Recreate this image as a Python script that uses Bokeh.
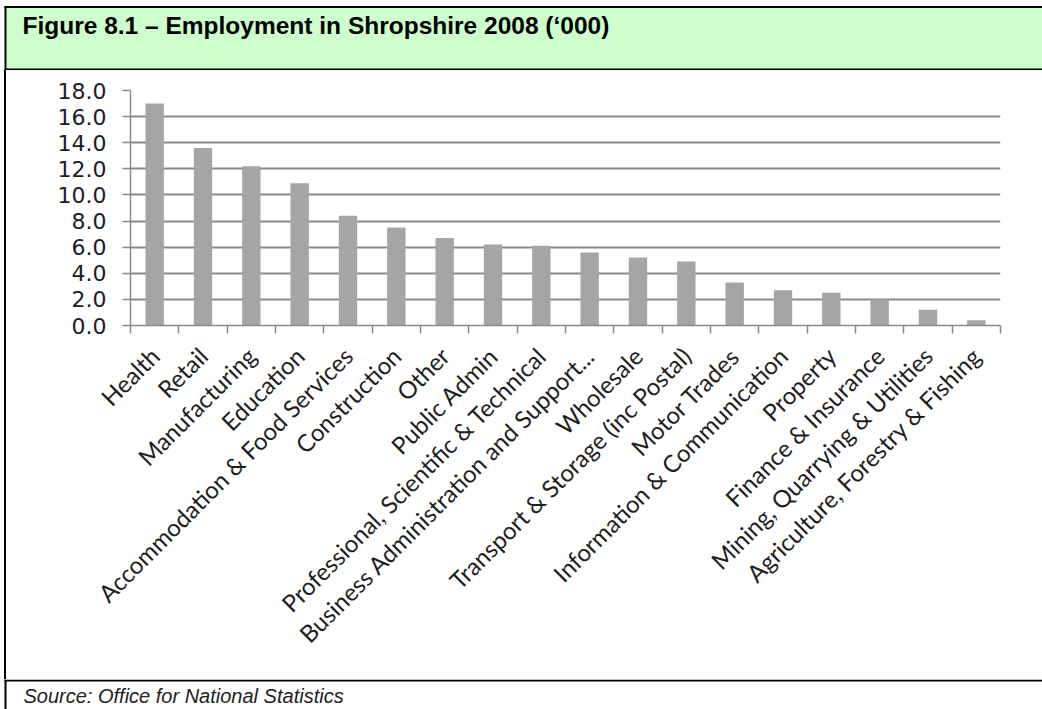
import math
from bokeh.plotting import figure
from bokeh.layouts import column, row
from bokeh.models import (FactorRange, Range1d, LinearAxis, CategoricalAxis, FixedTicker,
                          NumeralTickFormatter, Label, ColumnDataSource, Div, Spacer)
from bokeh.embed import file_html
from bokeh.resources import INLINE

# ---- data ----
categories = [
    "Health", "Retail", "Manufacturing", "Education", "Accommodation & Food Services",
    "Construction", "Other", "Public Admin", "Professional, Scientific & Technical",
    "Business Administration and Support...", "Wholesale", "Transport & Storage (inc Postal)",
    "Motor Trades", "Information & Communication", "Property", "Finance & Insurance",
    "Mining, Quarrying & Utilities", "Agriculture, Forestry & Fishing",
]
employment = [17.0, 13.6, 12.2, 10.9, 8.4, 7.5, 6.7, 6.2, 6.1, 5.6, 5.2, 4.9,
              3.3, 2.7, 2.5, 2.0, 1.2, 0.4]
y_ticks = [0, 2, 4, 6, 8, 10, 12, 14, 16, 18]
title_text = "Figure 8.1 \u2013 Employment in Shropshire 2008 (\u2018000)"
source_text = "Source: Office for National Statistics"

GRAY = "#8a8a8a"
W = 1042


def deco_figure(w, h):
    f = figure(width=w, height=h, x_range=Range1d(0, w), y_range=Range1d(h, 0),
               x_axis_type=None, y_axis_type=None, output_backend="svg", toolbar_location=None,
               min_border=0, min_border_left=0, min_border_right=0,
               min_border_top=0, min_border_bottom=0)
    f.outline_line_color = None
    f.background_fill_color = "white"
    f.border_fill_color = "white"
    f.grid.visible = False
    return f


# ---- header (green title band) ----
HEADER_H = 70
header = deco_figure(W, HEADER_H)
header.quad(left=[5], right=[W + 2], top=[7], bottom=[69], fill_color="#ccffcc", line_color=None)
header.quad(left=[4, 4, 4], right=[W + 2, W + 2, 6], top=[5.5, 68, 5.5], bottom=[7.5, 70, 70],
            fill_color="black", line_color=None)
header.add_layout(Label(x=22, y=24.5, text=title_text,
                        text_font="Liberation Sans", text_font_style="bold",
                        text_font_size="24.5px", text_baseline="alphabetic", text_color="black"))

# ---- main chart ----
MAIN_H = 609
p = figure(width=W - 6, height=MAIN_H,
           x_range=FactorRange(*categories), y_range=Range1d(0, 18),
           x_axis_type=None, output_backend="svg", toolbar_location=None,
           min_border_left=124, min_border_right=42, min_border_top=20, min_border_bottom=354)
p.outline_line_color = None
p.background_fill_color = "white"
p.border_fill_color = "white"

src = ColumnDataSource(dict(cat=categories, val=employment))
p.vbar(x="cat", top="val", width=0.38, source=src, fill_color="#a5a5a5", line_color=None)

yt = FixedTicker(ticks=y_ticks)
p.yaxis.ticker = yt
p.yaxis.formatter = NumeralTickFormatter(format="0.0")
p.yaxis.axis_line_color = GRAY
p.yaxis.axis_line_width = 1.5
p.yaxis.major_tick_line_color = GRAY
p.yaxis.major_tick_line_width = 1.5
p.yaxis.major_tick_out = 8
p.yaxis.major_tick_in = 0
p.yaxis.minor_tick_line_color = None
p.yaxis.major_label_text_font = "DejaVu Sans"
p.yaxis.major_label_text_font_size = "22px"
p.yaxis.major_label_text_color = "#1c1c28"
p.yaxis.major_label_standoff = 16
p.ygrid.ticker = yt
p.ygrid.grid_line_color = GRAY
p.ygrid.grid_line_width = 2

# ticks at category boundaries (synthetic coordinates of the factor range)
tick_axis = LinearAxis(ticker=FixedTicker(ticks=list(range(len(categories) + 1))),
                       major_tick_out=8, major_tick_in=0, minor_tick_out=0, minor_tick_in=0,
                       major_label_text_font_size="0px", major_label_text_color=None,
                       major_label_standoff=0,
                       axis_line_color=GRAY, axis_line_width=1.5,
                       major_tick_line_color=GRAY, major_tick_line_width=1.5)
p.add_layout(tick_axis, "below")

cat_axis = CategoricalAxis(axis_line_color=None, major_tick_line_color=None,
                           major_tick_out=0, major_tick_in=0,
                           major_label_orientation=math.pi / 4,
                           major_label_text_font="Lato", major_label_text_font_size="24px",
                           major_label_text_color="#1e1e1e", major_label_standoff=18)
p.add_layout(cat_axis, "below")

# left border strip beside the chart
left_gap = Spacer(width=4, height=MAIN_H, margin=(0, 0, 0, 0))
left_line = Div(text="", width=2, height=MAIN_H, margin=(0, 0, 0, 0),
                styles={"background-color": "black"})

# ---- footer (source) ----
FOOT_H = 709 - HEADER_H - MAIN_H
footer = deco_figure(W, FOOT_H)
footer.quad(left=[4, 4], right=[W + 2, 6], top=[0, 0], bottom=[2, FOOT_H],
            fill_color="black", line_color=None)
footer.add_layout(Label(x=23, y=16.5, text=source_text,
                        text_font="Liberation Sans", text_font_style="italic",
                        text_font_size="20px", text_baseline="alphabetic", text_color="#222222"))

layout = column(header, row(left_gap, left_line, p, spacing=0), footer, spacing=0)
open("out.html", "w").write(file_html(layout, INLINE))
